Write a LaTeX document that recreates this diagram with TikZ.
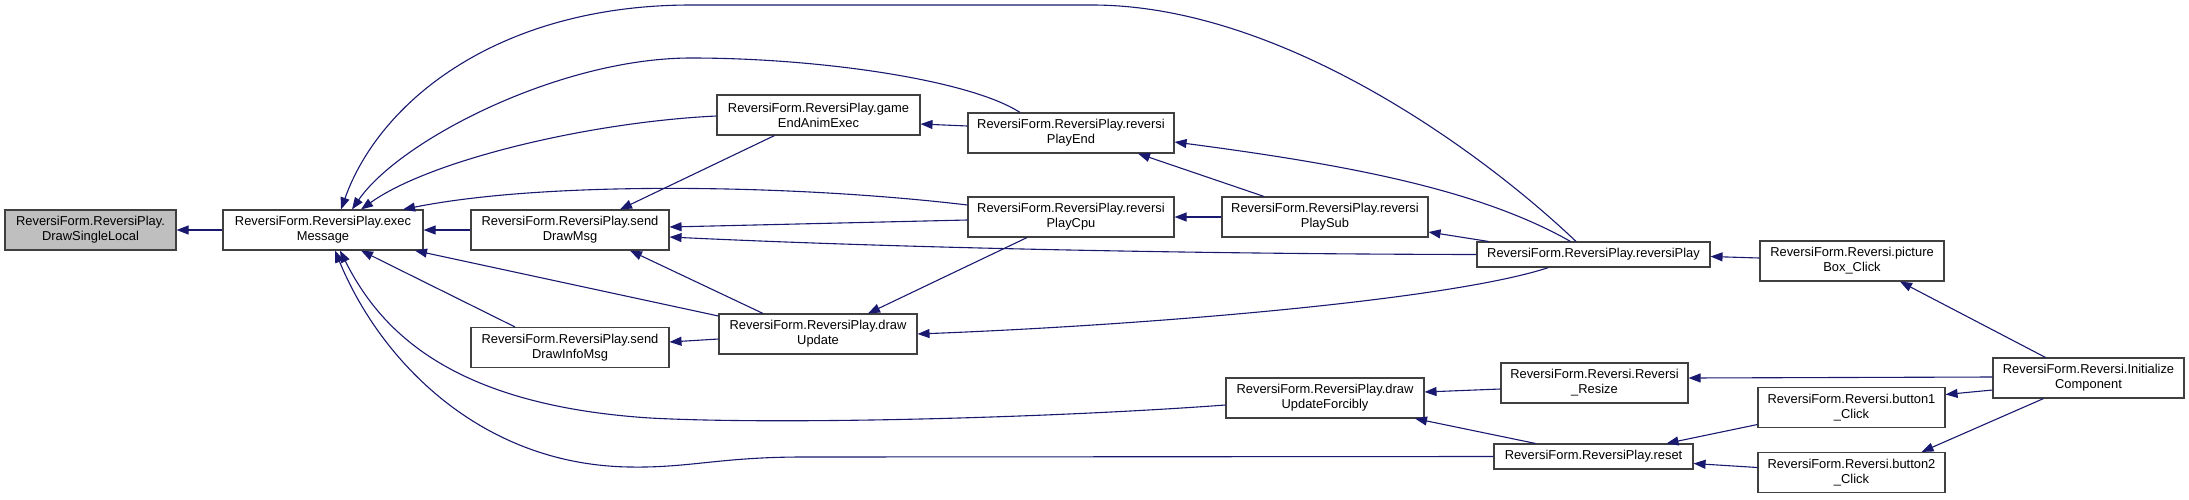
\documentclass[tikz,border=0pt]{standalone}
\usepackage{fontspec}
\setmainfont{Liberation Sans}
\usetikzlibrary{arrows.meta}
\definecolor{midnight}{HTML}{191970}
\definecolor{boxline}{HTML}{404040}

\begin{document}
\begin{tikzpicture}[x=1pt,y=-1pt,
    fn/.style={draw=boxline,line width=1.1pt,fill=white,rectangle,align=center,
      minimum height=40,font=\fontsize{12.9}{15}\selectfont},
    fnone/.style={fn,minimum height=25},
    hl/.style={fill=black!25},
    edge/.style={midnight,line width=1.1pt,-{Triangle[length=12pt,width=9pt]}}]
  \useasboundingbox (0,0) rectangle (2189,499);
  \node[fn,hl,minimum width=171] (dsl) at (90.5,230) {ReversiForm.ReversiPlay.\\DrawSingleLocal};
  \node[fn,minimum width=200] (exec) at (323,230) {ReversiForm.ReversiPlay.exec\\Message};
  \node[fn,minimum width=198] (sdm) at (570,230) {ReversiForm.ReversiPlay.send\\DrawMsg};
  \node[fn,minimum width=198] (sdim) at (570,347.5) {ReversiForm.ReversiPlay.send\\DrawInfoMsg};
  \node[fn,minimum width=203] (geae) at (818.5,115) {ReversiForm.ReversiPlay.game\\EndAnimExec};
  \node[fn,minimum width=198] (du) at (818,334) {ReversiForm.ReversiPlay.draw\\Update};
  \node[fn,minimum width=206] (rpe) at (1071,133) {ReversiForm.ReversiPlay.reversi\\PlayEnd};
  \node[fn,minimum width=206] (rpc) at (1071,217) {ReversiForm.ReversiPlay.reversi\\PlayCpu};
  \node[fn,minimum width=206] (rps) at (1325,217) {ReversiForm.ReversiPlay.reversi\\PlaySub};
  \node[fn,minimum width=198] (duf) at (1325,398) {ReversiForm.ReversiPlay.draw\\UpdateForcibly};
  \node[fnone,minimum width=233] (rp) at (1593.5,254.5) {ReversiForm.ReversiPlay.reversiPlay};
  \node[fn,minimum width=187] (rr) at (1594.5,383) {ReversiForm.Reversi.Reversi\\\_Resize};
  \node[fnone,minimum width=199] (rst) at (1593.5,456.5) {ReversiForm.ReversiPlay.reset};
  \node[fn,minimum width=184] (pbc) at (1852,261) {ReversiForm.Reversi.picture\\Box\_Click};
  \node[fn,minimum width=187] (b1) at (1851.5,407.5) {ReversiForm.Reversi.button1\\\_Click};
  \node[fn,minimum width=187] (b2) at (1851.5,472.5) {ReversiForm.Reversi.button2\\\_Click};
  \node[fn,minimum width=191] (ic) at (2088.5,378) {ReversiForm.Reversi.Initialize\\Component};

  \draw[edge] (exec.west) -- (dsl.east);
  \draw[edge] (sdm.west) -- (exec.east);
  \draw[edge] ([yshift=-1]geae.west) .. controls (590,122) and (430,160) .. ([xshift=38]exec.north);
  \draw[edge] ([xshift=-51]rpe.north) .. controls (970,80) and (820,58) .. (691,58)
    .. controls (560,58) and (400,140) .. ([xshift=29]exec.north);
  \draw[edge] ([xshift=-17.5]rp.north) .. controls (1480,150) and (1280,5) .. (1092,5) -- (691,5)
    .. controls (500,5) and (380,100) .. ([xshift=18]exec.north);
  \draw[edge] ([yshift=12]rpc.west) .. controls (800,185) and (550,180) .. ([xshift=80]exec.north);
  \draw[edge] ([yshift=18]du.west) -- ([xshift=92]exec.south);
  \draw[edge] ([xshift=-55]sdim.north) -- ([xshift=38]exec.south);
  \draw[edge] ([yshift=-7]duf.west) .. controls (1050,418) and (780,425) .. (650,418)
    .. controls (450,405) and (380,330) .. ([xshift=17]exec.south);
  \draw[edge] (rst.west) -- (803,457) .. controls (720,457) and (690,468) .. (630,467)
    .. controls (480,465) and (380,360) .. ([xshift=12]exec.south);
  \draw[edge] ([xshift=-44]geae.south) -- ([xshift=50]sdm.north);
  \draw[edge] ([yshift=-3]rpc.west) -- ([yshift=3]sdm.east);
  \draw[edge] (rp.west) .. controls (1200,254) and (900,248) .. ([yshift=-7]sdm.east);
  \draw[edge] ([xshift=-55]du.north) -- ([xshift=60]sdm.south);
  \draw[edge] ([yshift=-5]du.west) -- ([yshift=5.5]sdim.east);
  \draw[edge] ([xshift=-44]rpc.south) -- ([xshift=50]du.north);
  \draw[edge] ([xshift=-45]rp.south) .. controls (1450,300) and (1150,325) .. (du.east);
  \draw[edge] ([yshift=7]rpe.west) -- ([yshift=-9]geae.east);
  \draw[edge] ([xshift=-61]rps.north) -- ([xshift=67]rpe.south);
  \draw[edge] ([xshift=-23]rp.north) .. controls (1480,190) and (1350,165) .. ([yshift=-9]rpe.east);
  \draw[edge] (rps.west) -- (rpc.east);
  \draw[edge] ([xshift=-105]rp.north) -- ([yshift=-15]rps.east);
  \draw[edge] ([yshift=3]pbc.west) -- ([yshift=-2]rp.east);
  \draw[edge] ([xshift=-43]ic.north) -- ([xshift=48]pbc.south);
  \draw[edge] ([yshift=-6]rr.west) -- ([yshift=6]duf.east);
  \draw[edge] ([xshift=-58]rst.north) -- ([xshift=90]duf.south);
  \draw[edge] ([yshift=1]ic.west) -- ([yshift=5]rr.east);
  \draw[edge] ([yshift=-17]b1.west) -- ([xshift=73]rst.north);
  \draw[edge] ([yshift=5]b2.west) -- ([yshift=-7]rst.east);
  \draw[edge] ([yshift=-12]ic.west) -- ([yshift=13]b1.east);
  \draw[edge] ([xshift=-45]ic.south) -- ([xshift=70]b2.north);
\end{tikzpicture}
\end{document}
